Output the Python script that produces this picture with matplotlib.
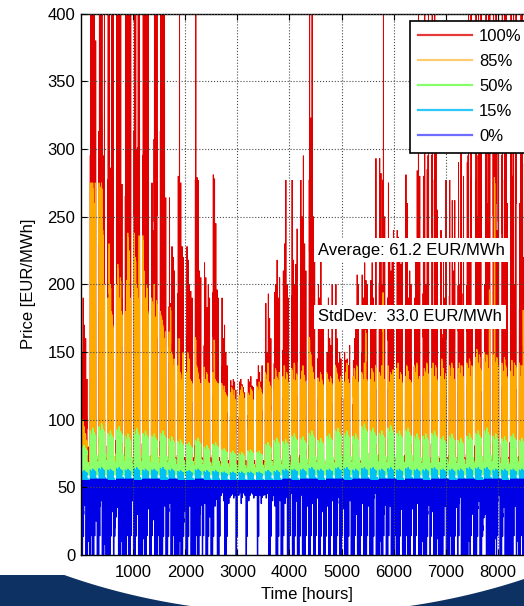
import numpy as np
import matplotlib
matplotlib.use("Agg")
import matplotlib.pyplot as plt
from matplotlib.lines import Line2D
from matplotlib.patches import Polygon

plt.rcParams['font.family'] = ['Liberation Sans', 'DejaVu Sans']
plt.rcParams['path.simplify'] = False

# ---------------------------------------------------------------- data
SERIES = ['100%', '85%', '50%', '15%', '0%']
AVERAGE_TEXT = 'Average: 61.2 EUR/MWh'
STDDEV_TEXT = 'StdDev:  33.0 EUR/MWh'
X_TICKS = [1000, 2000, 3000, 4000, 5000, 6000, 7000, 8000]
Y_TICKS = [0, 50, 100, 150, 200, 250, 300, 350, 400]

# hourly shape of a day (0 = night level, 1 = daily peak)
DAY_SHAPE = [0.10, 0.04, 0.00, 0.00, 0.02, 0.08, 0.30, 0.65, 0.85, 0.95, 1.00, 0.97,
             0.90, 0.85, 0.80, 0.78, 0.82, 0.92, 0.98, 0.90, 0.72, 0.55, 0.38, 0.22]
# sharper evening peak of the 100% scenario
RED_SHAPE = [0.05, 0.02, 0.00, 0.00, 0.01, 0.05, 0.18, 0.35, 0.48, 0.55, 0.60, 0.58,
             0.52, 0.48, 0.45, 0.48, 0.58, 0.80, 1.00, 0.75, 0.48, 0.32, 0.18, 0.09]
# hourly shape of the 0% scenario (low prices through the night)
BLUE_SHAPE = [0.10, 0.00, 0.00, 0.00, 0.00, 0.05, 0.25, 0.60, 0.90, 1.00, 1.00, 1.00,
              1.00, 1.00, 1.00, 1.00, 1.00, 1.00, 1.00, 1.00, 0.90, 0.70, 0.45, 0.25]
# Mon..Sun profile for the 50% and 15% scenarios
WEEK_PROFILE = [1.00, 0.92, 1.06, 0.96, 0.90, 0.45, 0.30]

NIGHT_100 = 63
NIGHT_85 = 61
NIGHT_50 = 59
NIGHT_15 = 52

# daily peak price, 100% scenario (one row per week, Mon..Sun)
PEAK_100 = [
    [150, 190, 170, 160, 130, 80, 70],
    [450, 500, 420, 480, 380, 72, 66],
    [480, 420, 500, 275, 450, 72, 66],
    [420, 500, 286, 450, 420, 72, 66],
    [500, 460, 480, 420, 274, 72, 66],
    [400, 500, 480, 420, 450, 72, 66],
    [480, 500, 300, 460, 480, 72, 66],
    [450, 480, 420, 500, 420, 72, 66],
    [275, 240, 470, 500, 480, 72, 66],
    [480, 450, 460, 420, 264, 72, 66],
    [264, 186, 228, 220, 210, 72, 66],
    [280, 420, 275, 228, 220, 72, 66],
    [228, 218, 200, 195, 190, 72, 66],
    [420, 279, 277, 210, 205, 72, 66],
    [216, 205, 183, 200, 190, 72, 66],
    [281, 278, 245, 196, 190, 72, 66],
    [190, 160, 170, 150, 140, 70, 65],
    [129, 125, 130, 128, 122, 70, 65],
    [128, 130, 126, 124, 120, 70, 65],
    [130, 128, 132, 125, 124, 70, 65],
    [130, 140, 135, 128, 140, 70, 65],
    [186, 150, 193, 175, 160, 70, 65],
    [194, 200, 218, 190, 205, 70, 65],
    [210, 230, 277, 200, 190, 70, 65],
    [277, 218, 200, 215, 241, 70, 65],
    [277, 250, 295, 230, 210, 70, 65],
    [420, 323, 450, 250, 230, 70, 65],
    [200, 190, 230, 180, 170, 70, 65],
    [150, 190, 160, 155, 200, 70, 65],
    [200, 160, 142, 150, 145, 70, 65],
    [150, 144, 145, 140, 155, 70, 65],
    [144, 160, 180, 207, 200, 70, 65],
    [207, 190, 216, 203, 200, 70, 65],
    [203, 216, 190, 180, 293, 70, 65],
    [293, 282, 200, 420, 250, 70, 65],
    [275, 230, 210, 220, 240, 70, 65],
    [240, 235, 220, 215, 230, 70, 65],
    [281, 260, 190, 210, 200, 70, 65],
    [190, 230, 284, 420, 280, 70, 65],
    [280, 420, 200, 285, 450, 72, 66],
    [450, 180, 420, 300, 255, 72, 66],
    [240, 160, 230, 190, 277, 72, 66],
    [277, 180, 262, 210, 262, 72, 66],
    [290, 200, 300, 170, 280, 72, 66],
    [290, 450, 220, 420, 180, 72, 66],
    [420, 250, 450, 300, 430, 72, 66],
    [200, 480, 260, 460, 420, 72, 66],
    [480, 300, 500, 240, 470, 72, 66],
    [450, 220, 420, 500, 260, 72, 66],
    [470, 280, 480, 200, 500, 72, 66],
    [260, 500, 450, 220, 440, 72, 66],
    [480, 250, 500, 300, 430, 72, 66],
    [300],
]

# daily peak price, 85% scenario
PEAK_85 = [
    [92, 100, 95, 90, 85, 66, 63],
    [275, 275, 275, 260, 275, 68, 64],
    [275, 272, 275, 240, 200, 68, 64],
    [190, 230, 200, 180, 170, 68, 64],
    [200, 215, 190, 205, 180, 68, 64],
    [180, 203, 238, 225, 190, 68, 64],
    [238, 220, 200, 190, 236, 68, 64],
    [236, 210, 190, 200, 180, 68, 64],
    [190, 185, 200, 176, 188, 68, 64],
    [180, 176, 170, 160, 165, 68, 64],
    [165, 183, 150, 140, 145, 67, 63],
    [140, 160, 135, 130, 150, 67, 63],
    [135, 150, 145, 130, 128, 67, 63],
    [161, 140, 135, 130, 127, 67, 63],
    [139, 130, 135, 128, 127, 67, 63],
    [135, 159, 130, 128, 127, 66, 62],
    [127, 122, 125, 120, 118, 66, 62],
    [120, 124, 118, 122, 115, 66, 62],
    [118, 122, 125, 120, 116, 66, 62],
    [120, 118, 124, 122, 115, 66, 62],
    [125, 122, 128, 124, 120, 66, 62],
    [135, 130, 142, 128, 125, 66, 62],
    [130, 138, 132, 129, 135, 66, 62],
    [132, 140, 130, 135, 128, 66, 62],
    [138, 130, 142, 129, 134, 66, 62],
    [130, 136, 140, 133, 128, 66, 62],
    [161, 150, 140, 135, 130, 66, 62],
    [131, 128, 135, 130, 126, 66, 62],
    [135, 130, 128, 132, 127, 66, 62],
    [140, 135, 130, 128, 132, 66, 62],
    [128, 135, 142, 130, 127, 66, 62],
    [132, 138, 130, 140, 128, 66, 62],
    [135, 130, 142, 166, 130, 66, 62],
    [130, 138, 135, 128, 140, 66, 62],
    [135, 132, 140, 194, 130, 66, 62],
    [140, 128, 135, 130, 137, 66, 62],
    [138, 142, 130, 135, 128, 66, 62],
    [132, 140, 136, 130, 129, 66, 62],
    [140, 135, 142, 130, 132, 66, 62],
    [132, 138, 135, 142, 134, 67, 63],
    [138, 142, 132, 140, 130, 67, 63],
    [132, 145, 138, 130, 134, 67, 63],
    [140, 132, 142, 138, 130, 67, 63],
    [138, 142, 134, 140, 132, 67, 63],
    [142, 138, 145, 132, 140, 67, 63],
    [146, 152, 142, 148, 138, 67, 63],
    [150, 142, 148, 138, 196, 67, 63],
    [148, 279, 142, 146, 140, 67, 63],
    [142, 136, 146, 140, 132, 67, 63],
    [136, 144, 132, 142, 140, 67, 63],
    [142, 132, 140, 181, 136, 67, 63],
    [140, 142, 134, 138, 132, 67, 63],
    [125],
]

# weekly weekday peak, 50% scenario
PEAK_50 = [80, 92, 95, 90, 93, 88, 92, 90, 88, 90,
           86, 84, 82, 85, 80, 82, 78, 76, 75, 77,
           76, 82, 85, 84, 88, 86, 90, 85, 88, 92,
           90, 88, 95, 92, 90, 94, 90, 92, 88, 88,
           90, 86, 88, 85, 88, 90, 92, 88, 86, 88,
           85, 84, 80]

# weekly weekday peak, 15% scenario
PEAK_15 = [62, 63, 64, 63, 64, 63, 64, 63, 63, 64,
           63, 62, 62, 63, 62, 62, 61, 61, 61, 61,
           61, 62, 62, 63, 63, 63, 64, 63, 63, 64,
           64, 63, 64, 64, 63, 64, 63, 64, 63, 63,
           64, 63, 63, 63, 64, 64, 64, 63, 63, 63,
           63, 62, 62]

# weekly daytime level, 0% scenario
TOP_0 = [55, 56, 56, 55, 56, 56, 55, 56, 56, 55,
         56, 55, 55, 56, 55, 55, 55, 55, 55, 55,
         55, 55, 55, 56, 55, 56, 56, 55, 56, 56,
         55, 56, 56, 55, 56, 56, 55, 56, 56, 55,
         56, 56, 55, 56, 56, 55, 56, 56, 55, 56,
         56, 55, 55]

# daily minimum price, 0% scenario
LOW_0 = [
    [0, 0, 30, 44, 0, 0, 10],
    [0, 15, 0, 0, 42, 25, 0],
    [0, 36, 40, 0, 0, 8, 0],
    [0, 0, 0, 46, 32, 0, 20],
    [28, 44, 0, 0, 10, 0, 0],
    [0, 0, 18, 0, 0, 38, 40],
    [0, 0, 42, 30, 0, 0, 0],
    [0, 12, 0, 0, 44, 34, 0],
    [0, 46, 26, 0, 0, 0, 15],
    [0, 0, 0, 40, 36, 0, 0],
    [32, 44, 0, 0, 20, 0, 0],
    [0, 0, 10, 0, 0, 24, 46],
    [0, 0, 40, 36, 0, 0, 0],
    [0, 18, 0, 0, 30, 45, 0],
    [44, 38, 0, 0, 40, 28, 0],
    [0, 44, 36, 42, 0, 0, 45],
    [44, 46, 40, 0, 0, 46, 38],
    [46, 44, 45, 42, 44, 0, 46],
    [44, 46, 38, 45, 46, 44, 0],
    [46, 40, 45, 46, 45, 42, 44],
    [44, 0, 46, 44, 38, 46, 44],
    [45, 42, 46, 0, 0, 45, 40],
    [46, 36, 0, 0, 45, 40, 0],
    [0, 44, 38, 45, 0, 0, 42],
    [46, 0, 0, 34, 46, 0, 0],
    [40, 46, 0, 0, 0, 44, 36],
    [0, 0, 45, 38, 0, 0, 44],
    [42, 0, 0, 45, 32, 0, 0],
    [44, 36, 0, 0, 45, 40, 0],
    [0, 0, 38, 46, 0, 0, 45],
    [34, 0, 0, 0, 44, 40, 0],
    [0, 0, 46, 30, 0, 0, 0],
    [45, 38, 0, 0, 0, 46, 36],
    [0, 0, 0, 42, 46, 0, 0],
    [0, 10, 0, 0, 30, 46, 0],
    [0, 45, 36, 0, 0, 0, 15],
    [0, 0, 0, 26, 42, 0, 0],
    [0, 20, 0, 0, 0, 44, 34],
    [0, 0, 46, 38, 0, 0, 0],
    [10, 0, 0, 0, 30, 40, 0],
    [44, 32, 0, 0, 0, 12, 0],
    [0, 0, 0, 42, 36, 0, 0],
    [0, 15, 0, 0, 0, 28, 44],
    [0, 38, 46, 0, 0, 0, 0],
    [0, 0, 10, 0, 42, 30, 0],
    [0, 0, 34, 44, 0, 0, 18],
    [46, 30, 0, 0, 0, 0, 0],
    [0, 0, 12, 0, 40, 46, 0],
    [0, 28, 44, 0, 0, 0, 0],
    [0, 0, 0, 46, 36, 0, 10],
    [0, 0, 15, 0, 0, 32, 45],
    [0, 40, 30, 0, 0, 0, 0],
    [0],
]

COLORS = ['#e00000', '#ffaa00', '#8cff6a', '#00c0f4', '#0000e6']
LEGEND_COLORS = ['#e63a3a', '#ffcc72', '#86ff6a', '#2cc8fa', '#6c6cff']
WIDTHS = [0.7, 0.7, 0.7, 0.7, 0.9]


# ---------------------------------------------------------------- build hourly series
def flatten(rows):
    return np.array([v for row in rows for v in row], dtype=float)


def hourly(day_peaks, night, shape):
    s = np.asarray(shape, float)
    return (night + (day_peaks[:, None] - night) * s[None, :]).ravel()


def weekly_to_daily(week_peaks, night, n_days):
    vals = []
    for d in range(n_days):
        w, dow = divmod(d, 7)
        vals.append(night + (week_peaks[w] - night) * WEEK_PROFILE[dow])
    return np.array(vals)


red_daily = flatten(PEAK_100)
n_days = len(red_daily)
orange_daily = flatten(PEAK_85)
green_daily = weekly_to_daily(PEAK_50, NIGHT_50, n_days)
cyan_daily = weekly_to_daily(PEAK_15, NIGHT_15, n_days)
blue_low = flatten(LOW_0)
blue_top = np.array([TOP_0[d // 7] for d in range(n_days)], dtype=float)

p100 = hourly(red_daily, NIGHT_100, RED_SHAPE)
p85 = hourly(orange_daily, NIGHT_85, DAY_SHAPE)
p50 = hourly(green_daily, NIGHT_50, DAY_SHAPE)
p15 = hourly(cyan_daily, NIGHT_15, DAY_SHAPE)
bs = np.asarray(BLUE_SHAPE, float)
p0 = (blue_low[:, None] + (blue_top - blue_low)[:, None] * bs[None, :]).ravel()

hours = np.arange(1, len(p100) + 1)

# ---------------------------------------------------------------- figure
W, H = 524, 606
fig = plt.figure(figsize=(W / 100, H / 100), dpi=100)
fig.patch.set_facecolor('white')

# slide decoration along the bottom edge
xs = np.linspace(0, W, 400)
a, b, cx, cy = 478.0, 300.0, 300.0, 314.0
inside = np.clip(1 - ((xs - cx) / a) ** 2, 0, None)
ye = cy + b * np.sqrt(inside)
top = np.minimum(np.maximum(575.0, ye), H)
pts = [(x / W, 1 - y / H) for x, y in zip(xs, top)] + [(1, 0), (0, 0)]
fig.patches.append(Polygon(pts, closed=True, transform=fig.transFigure,
                           facecolor='#0c3162', edgecolor='none', zorder=0))

ax_left, ax_right, ax_top, ax_bottom = 81.0, 537.6, 13.5, 555.0
ax = fig.add_axes([ax_left / W, 1 - ax_bottom / H,
                   (ax_right - ax_left) / W, (ax_bottom - ax_top) / H])

for series, col, lw in zip([p100, p85, p50, p15, p0], COLORS, WIDTHS):
    ax.plot(hours, series, color=col, lw=lw, solid_joinstyle='miter')

ax.set_xlim(1, 8760)
ax.set_ylim(0, 400)
ax.set_xticks(X_TICKS)
ax.set_yticks(Y_TICKS)
ax.tick_params(direction='in', length=4, width=0.8, top=True, right=True,
               labelsize=12, colors='black')
ax.tick_params(axis='x', pad=7)
ax.tick_params(axis='y', pad=4)
ax.grid(True, linestyle=':', color='#4a4a4a', linewidth=0.8)
ax.set_axisbelow(False)
for sp in ax.spines.values():
    sp.set_linewidth(1.0)
    sp.set_color('black')

fig.text(28 / W, 1 - 284 / H, 'Price [EUR/MWh]', rotation=90,
         ha='center', va='center', fontsize=12)
fig.text(307 / W, 1 - 594 / H, 'Time [hours]', ha='center', va='center', fontsize=12)

box = dict(facecolor='white', edgecolor='none', pad=3.0)
fig.text(318 / W, 1 - 250 / H, AVERAGE_TEXT, ha='left', va='center',
         fontsize=12, bbox=box, zorder=5)
fig.text(318 / W, 1 - 317 / H, STDDEV_TEXT, ha='left', va='center',
         fontsize=12, bbox=box, zorder=5)

handles = [Line2D([], [], color=c, lw=1.6) for c in LEGEND_COLORS]
leg = fig.legend(handles, SERIES, loc='upper left',
                 bbox_to_anchor=(410 / W, 1 - 21 / H), borderaxespad=0,
                 frameon=True, fancybox=False, framealpha=1, edgecolor='black',
                 fontsize=12, handlelength=3.2, handletextpad=0.45,
                 labelspacing=0.6, borderpad=0.5)
leg.get_frame().set_linewidth(1.2)
leg.set_zorder(6)

fig.savefig('out.png', dpi=100, facecolor='white')
